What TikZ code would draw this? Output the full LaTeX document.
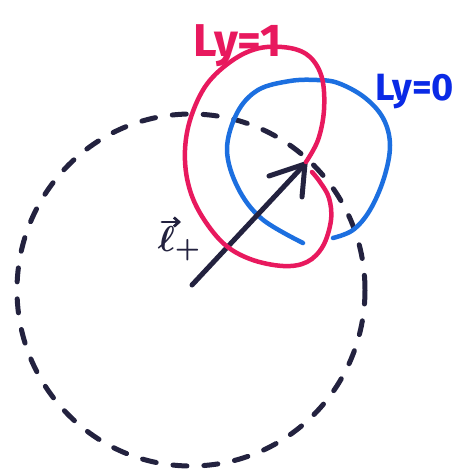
\documentclass[tikz,border=0pt]{standalone}
\usepackage{fontspec}
\usepackage{graphicx}
\setsansfont{Fira Sans}
\usetikzlibrary{arrows.meta}
\begin{document}
\begin{tikzpicture}[x=1pt,y=-1pt,
  redc/.style={draw=lyred,line width=4.5pt,line cap=round,line join=round},
  bluec/.style={draw=lyblue,line width=4.5pt,line cap=round,line join=round},
  darkc/.style={draw=inkdark,line width=5pt,line cap=round,line join=round},
  dashc/.style={draw=inkdark,line width=5pt,line cap=round,dash pattern=on 14pt off 17pt},
  lbl/.style={font=\sffamily\bfseries,inner sep=0pt}]
\definecolor{lyred}{HTML}{E8195E}
\definecolor{lyblue}{HTML}{1C6FE0}
\definecolor{lbblue}{HTML}{0A2AE6}
\definecolor{inkdark}{HTML}{23223F}
\useasboundingbox (0,0) rectangle (466,474);
\fill[white] (0,0) rectangle (466,474);
% dashed circle
\coordinate (C) at (191,290);
\draw[dashc] (C) ellipse [x radius=174, y radius=176];
% blue circle (Ly=0)
\draw[bluec] plot[smooth,tension=0.6] coordinates {(303,243) (262,219) (238,188) (227,150) (237,113) (258,90) (290,81) (317,80) (338,83) (364,97) (383,118) (390,145) (384,178) (370,210) (353,230) (333,238)};
% arrow l_+
\coordinate (tail) at (192,285);
\coordinate (tip) at (305,164);
\coordinate (barbA) at (269,176);
\coordinate (barbB) at (302,197);
\draw[darkc] (tail) -- (tip);
\draw[darkc] (barbA) -- (tip) -- (barbB);
% red curve (Ly=1)
\draw[redc] plot[smooth,tension=0.6] coordinates {(306,162) (318,140) (324,110) (322,78) (310,57) (290,48) (260,48) (233,60) (207,84) (191,117) (185,150) (188,183) (200,213) (223,243) (250,259) (283,266) (307,262) (323,246) (331,220) (329,198) (320,182) (312,172)};
% labels
\node[lbl,text=lyred,font=\sffamily\bfseries\fontsize{46}{46}\selectfont] (ly1) at (238,46) {Ly=1};
\node[lbl,text=lbblue,font=\sffamily\bfseries\fontsize{38}{38}\selectfont] (ly0) at (415,92) {Ly=0};
\node[lbl,text=inkdark,font=\boldmath] (lp) at (180,244) {\scalebox{3.6}{$\ell_{+}$}};
\coordinate (va) at (162,222);
\coordinate (vb) at (181,222);
\draw[draw=inkdark,line width=2.8pt,line cap=round,-{Straight Barb[length=5pt,width=9pt]}] (va) -- (vb);
\end{tikzpicture}
\end{document}
